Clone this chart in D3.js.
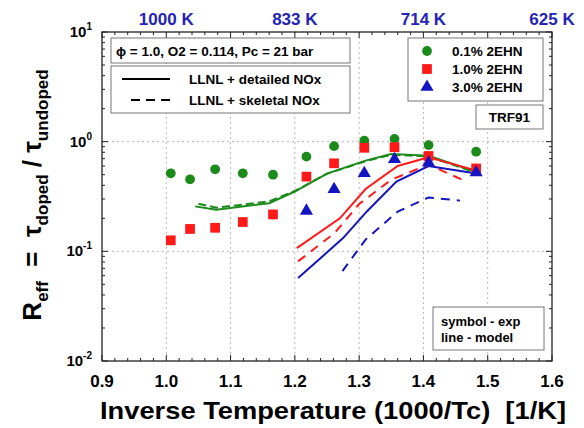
<!DOCTYPE html>
<html><head><meta charset="utf-8">
<style>
  body { margin: 0; background: #fff; }
  text { font-family: Arial, "Liberation Sans", sans-serif; font-weight: bold; white-space: pre; }
  .grid { stroke: #b8b8b8; stroke-width: 1px; stroke-dasharray: 2,3; }
  .frame { fill: none; stroke: #222; stroke-width: 1.3px; }
  .tick { stroke: #222; stroke-width: 1px; }
  .box { fill: #fff; stroke: #777; stroke-width: 1px; }
</style></head><body>
<svg id="chart" width="584" height="428"></svg>
<script src="https://d3js.org/d3.v7.min.js"></script>
<script>
// experiments (symbols)
var circX = [1.007, 1.037, 1.076, 1.119, 1.166, 1.218, 1.261, 1.308, 1.355, 1.408, 1.482];
var circY = [0.515, 0.454, 0.56, 0.515, 0.50, 0.73, 0.91, 1.02, 1.06, 0.93, 0.81];
var sqX = [1.007, 1.037, 1.076, 1.119, 1.166, 1.218, 1.261, 1.308, 1.355, 1.408, 1.482];
var sqY = [0.126, 0.16, 0.164, 0.185, 0.217, 0.48, 0.635, 0.88, 0.89, 0.74, 0.57];
var triX = [1.218, 1.261, 1.308, 1.355, 1.408, 1.482];
var triY = [0.239, 0.376, 0.526, 0.705, 0.658, 0.534];
// model (lines)
var greenSolidX = [1.045, 1.078, 1.16, 1.2, 1.25, 1.31, 1.35, 1.408, 1.48];
var greenSolidY = [0.257, 0.239, 0.275, 0.351, 0.512, 0.672, 0.773, 0.746, 0.534];
var greenDashX = [1.05, 1.078, 1.16, 1.2, 1.25, 1.31, 1.35, 1.408, 1.48];
var greenDashY = [0.272, 0.25, 0.285, 0.355, 0.51, 0.665, 0.76, 0.735, 0.525];
var redSolidX = [1.203, 1.27, 1.31, 1.36, 1.408, 1.48];
var redSolidY = [0.107, 0.20, 0.37, 0.60, 0.72, 0.55];
var redDashX = [1.205, 1.262, 1.30, 1.35, 1.408, 1.46];
var redDashY = [0.081, 0.147, 0.27, 0.45, 0.62, 0.45];
var blueSolidX = [1.205, 1.275, 1.312, 1.358, 1.408, 1.48];
var blueSolidY = [0.057, 0.132, 0.231, 0.433, 0.60, 0.515];
var blueDashX = [1.274, 1.31, 1.36, 1.408, 1.457];
var blueDashY = [0.066, 0.128, 0.23, 0.31, 0.29];
// axes
var xTicks = [0.9, 1.0, 1.1, 1.2, 1.3, 1.4, 1.5, 1.6];
var topTicks = [1.0, 1.2, 1.4, 1.6];
var topLabels = ['1000 K', '833 K', '714 K', '625 K'];
var yExp = [1, 0, -1, -2];
var legendLabels = ['0.1% 2EHN', '1.0% 2EHN', '3.0% 2EHN'];

var GREEN = '#1b8a1b', RED = '#ff1a1a', BLUE = '#1414c0';

var svg = d3.select('#chart');
var x = d3.scaleLinear().domain([0.9, 1.6]).range([102, 552]);
var y = d3.scaleLog().domain([0.01, 10]).range([361, 32]);
var x0 = x.range()[0], x1 = x.range()[1], y0 = y.range()[0], y1 = y.range()[1];

function zip(a, b) { return a.map(function(v, i) { return [v, b[i]]; }); }

// grid
svg.append('g').selectAll('line').data([1.0, 1.1, 1.2, 1.3, 1.4, 1.5]).enter().append('line')
  .attr('class', 'grid').attr('x1', d => x(d)).attr('x2', d => x(d)).attr('y1', y1).attr('y2', y0);
svg.append('g').selectAll('line').data([1, 0.1]).enter().append('line')
  .attr('class', 'grid').attr('y1', d => y(d)).attr('y2', d => y(d)).attr('x1', x0).attr('x2', x1);

// ticks
var minorX = d3.range(0, 36).map(i => 0.9 + i * 0.02).filter(v => v <= 1.6001);
var tk = svg.append('g');
minorX.forEach(function(v) {
  var major = Math.abs(v * 10 - Math.round(v * 10)) < 1e-6;
  var l = major ? 6 : 3;
  tk.append('line').attr('class', 'tick').attr('x1', x(v)).attr('x2', x(v)).attr('y1', y0).attr('y2', y0 - l);
  tk.append('line').attr('class', 'tick').attr('x1', x(v)).attr('x2', x(v)).attr('y1', y1).attr('y2', y1 + l);
});
var yMinor = [];
[0.01, 0.1, 1].forEach(function(b) { for (var k = 1; k < 10; k++) yMinor.push(b * k); });
yMinor.push(10);
yMinor.forEach(function(v) {
  var major = Math.abs(Math.log10(v) - Math.round(Math.log10(v))) < 1e-6;
  var l = major ? 6 : 3;
  tk.append('line').attr('class', 'tick').attr('y1', y(v)).attr('y2', y(v)).attr('x1', x0).attr('x2', x0 + l);
  tk.append('line').attr('class', 'tick').attr('y1', y(v)).attr('y2', y(v)).attr('x1', x1).attr('x2', x1 - l);
});

// frame
svg.append('rect').attr('class', 'frame').attr('x', x0).attr('y', y1).attr('width', x1 - x0).attr('height', y0 - y1);

// tick labels
svg.append('g').selectAll('text').data(xTicks).enter().append('text')
  .attr('x', d => x(d)).attr('y', 387).attr('text-anchor', 'middle')
  .style('font-size', '17px').text(d => d.toFixed(1));
svg.append('g').selectAll('text').data(topTicks).enter().append('text')
  .attr('x', d => x(d)).attr('y', 25).attr('text-anchor', 'middle')
  .style('font-size', '17px').attr('fill', '#2323b4').text((d, i) => topLabels[i]);
var yl = svg.append('g').selectAll('text').data(yExp).enter().append('text')
  .attr('x', 92).attr('y', d => y(Math.pow(10, d)) + 5).attr('text-anchor', 'end')
  .style('font-size', '15px');
yl.append('tspan').text('10');
yl.append('tspan').attr('dy', -7).style('font-size', '10px').text(d => d);

// axis titles
svg.append('text').attr('x', 333).attr('y', 419).attr('text-anchor', 'middle')
  .attr('textLength', 466).attr('lengthAdjust', 'spacingAndGlyphs')
  .style('font-size', '24px').text('Inverse Temperature (1000/Tc)  [1/K]');
var yt = svg.append('text').attr('transform', 'translate(41,195) rotate(-90)')
  .attr('text-anchor', 'middle').style('font-size', '26px');
yt.append('tspan').text('R');
yt.append('tspan').attr('dy', 7).style('font-size', '17px').text('eff');
yt.append('tspan').attr('dy', -7).text('  =  \u03c4');
yt.append('tspan').attr('dy', 7).style('font-size', '17px').text('doped');
yt.append('tspan').attr('dy', -7).text(' / \u03c4');
yt.append('tspan').attr('dy', 7).style('font-size', '17px').text('undoped');

// model lines
var line = d3.line().x(d => x(d[0])).y(d => y(d[1]));
var series = [
  [greenDashX, greenDashY, GREEN, '8,4'],
  [greenSolidX, greenSolidY, GREEN, null],
  [redSolidX, redSolidY, RED, null],
  [redDashX, redDashY, RED, '9,7'],
  [blueSolidX, blueSolidY, BLUE, null],
  [blueDashX, blueDashY, BLUE, '9,7']
];
series.forEach(function(s) {
  svg.append('path').datum(zip(s[0], s[1])).attr('d', line)
    .attr('fill', 'none').attr('stroke', s[2]).attr('stroke-width', 2)
    .attr('stroke-dasharray', s[3]);
});

// symbols
var sym = {
  circle: d3.symbol().type(d3.symbolCircle).size(75),
  square: d3.symbol().type(d3.symbolSquare).size(95),
  tri: d3.symbol().type(d3.symbolTriangle).size(75)
};
svg.append('g').selectAll('path').data(zip(circX, circY)).enter().append('path')
  .attr('d', sym.circle).attr('fill', GREEN)
  .attr('transform', d => 'translate(' + x(d[0]) + ',' + y(d[1]) + ')');
svg.append('g').selectAll('path').data(zip(sqX, sqY)).enter().append('path')
  .attr('d', sym.square).attr('fill', RED)
  .attr('transform', d => 'translate(' + x(d[0]) + ',' + y(d[1]) + ')');
svg.append('g').selectAll('path').data(zip(triX, triY)).enter().append('path')
  .attr('d', sym.tri).attr('fill', BLUE)
  .attr('transform', d => 'translate(' + x(d[0]) + ',' + (y(d[1]) + 1) + ')');

// condition box
svg.append('rect').attr('class', 'box').attr('x', 111).attr('y', 38).attr('width', 239).attr('height', 25);
svg.append('text').attr('x', 116).attr('y', 56).style('font-size', '13.5px')
  .text('\u03d5 = 1.0, O2 = 0.114, Pc = 21 bar');

// model legend box
svg.append('rect').attr('class', 'box').attr('x', 111).attr('y', 66).attr('width', 239).attr('height', 47);
svg.append('line').attr('x1', 122).attr('x2', 170).attr('y1', 79).attr('y2', 79)
  .attr('stroke', '#000').attr('stroke-width', 2);
svg.append('line').attr('x1', 131).attr('x2', 171).attr('y1', 100).attr('y2', 100)
  .attr('stroke', '#000').attr('stroke-width', 2).attr('stroke-dasharray', '9,6');
svg.append('text').attr('x', 189).attr('y', 84).style('font-size', '13.5px').text('LLNL + detailed NOx');
svg.append('text').attr('x', 189).attr('y', 105).style('font-size', '13.5px').text('LLNL + skeletal NOx');

// symbol legend box
svg.append('rect').attr('class', 'box').attr('x', 408).attr('y', 38).attr('width', 135).attr('height', 63);
var legendSym = [[sym.circle, GREEN], [sym.square, RED], [sym.tri, BLUE]];
legendLabels.forEach(function(t, i) {
  var cy = 51 + i * 18;
  svg.append('path').attr('d', legendSym[i][0]).attr('fill', legendSym[i][1])
    .attr('transform', 'translate(427,' + cy + ')');
  svg.append('text').attr('x', 452).attr('y', cy + 5).style('font-size', '13.5px').text(t);
});

// fuel box
svg.append('rect').attr('class', 'box').attr('x', 476).attr('y', 105).attr('width', 67).attr('height', 24);
svg.append('text').attr('x', 509.5).attr('y', 122).attr('text-anchor', 'middle').style('font-size', '13.5px').text('TRF91');

// note box
svg.append('rect').attr('class', 'box').attr('x', 433).attr('y', 307).attr('width', 111).attr('height', 43);
svg.append('text').attr('x', 441).attr('y', 326).style('font-size', '13px').text('symbol - exp');
svg.append('text').attr('x', 441).attr('y', 342).style('font-size', '13px').text('line - model');
</script>
</body></html>
